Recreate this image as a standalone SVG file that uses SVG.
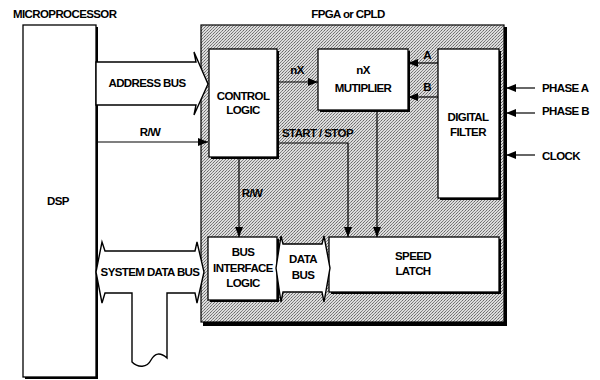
<svg xmlns="http://www.w3.org/2000/svg" width="600" height="380" viewBox="0 0 600 380">
<defs>
<pattern id="dither" width="3" height="3" patternUnits="userSpaceOnUse">
<rect width="3" height="3" fill="#dcdcdc"/>
<rect x="0" y="0" width="1" height="1" fill="#6a6a6a"/>
<rect x="2" y="1" width="1" height="1" fill="#8a8a8a"/>
<rect x="1" y="2" width="1" height="1" fill="#7a7a7a"/>
</pattern>
<marker id="ah" markerUnits="userSpaceOnUse" markerWidth="10" markerHeight="10" viewBox="0 0 10 10" refX="10" refY="5" orient="auto">
<path d="M0,1 L10,5 L0,9 Z" fill="#000"/>
</marker>
</defs>
<style>
text{font-family:"Liberation Sans Narrow","Liberation Sans",Arial,sans-serif;font-weight:bold;font-size:11.5px;fill:#000;letter-spacing:-0.6px}
.c{text-anchor:middle}
.box{fill:#fff;stroke:#000;stroke-width:1.3}
.sh{fill:#000}
.ln{fill:none;stroke:#000;stroke-width:1.2}
.bus{fill:#fff;stroke:#000;stroke-width:1.4;stroke-linejoin:miter}
</style>
<rect width="600" height="380" fill="#fff"/>

<text x="13" y="18">MICROPROCESSOR</text>
<text x="348" y="18" class="c">FPGA or CPLD</text>

<g id="dsp">
<rect x="25" y="27" width="73" height="352" class="sh"/>
<rect x="23" y="25" width="73" height="352" class="box"/>
<text x="58" y="205" class="c">DSP</text>
</g>

<g id="fpga">
<rect x="203" y="27" width="304" height="299" class="sh"/>
<rect x="201" y="25" width="303" height="297" fill="url(#dither)" stroke="#000" stroke-width="1.2"/>
</g>

<g id="control-logic">
<rect x="211" y="51" width="68" height="108" class="sh"/>
<rect x="209" y="49" width="68" height="108" class="box"/>
<text x="243" y="100" class="c">CONTROL</text>
<text x="243" y="114" class="c">LOGIC</text>
</g>

<g id="nx-multiplier">
<rect x="320" y="51" width="90" height="61" class="sh"/>
<rect x="318" y="49" width="90" height="61" class="box"/>
<text x="363" y="74" class="c">nX</text>
<text x="363" y="92" class="c">MUTIPLIER</text>
</g>

<g id="digital-filter">
<rect x="440" y="51" width="61" height="149" class="sh"/>
<rect x="438" y="49" width="61" height="149" class="box"/>
<text x="468" y="121" class="c">DIGITAL</text>
<text x="468" y="136" class="c">FILTER</text>
</g>

<g id="bus-interface-logic">
<rect x="210" y="239" width="69" height="63" class="sh"/>
<rect x="208" y="237" width="69" height="63" class="box"/>
<text x="243" y="256" class="c">BUS</text>
<text x="243" y="272" class="c">INTERFACE</text>
<text x="243" y="287" class="c">LOGIC</text>
</g>

<g id="speed-latch">
<rect x="331" y="239" width="170" height="55" class="sh"/>
<rect x="329" y="237" width="170" height="55" class="box"/>
<text x="413" y="260" class="c">SPEED</text>
<text x="413" y="275" class="c">LATCH</text>
</g>

<g id="data-bus">
<path d="M276,268 L281,236 L283,244 L322,244 L324,236 L330,268 L324,302 L322,292 L283,292 L281,302 Z" class="bus"/>
<text x="303" y="263" class="c">DATA</text>
<text x="303" y="279" class="c">BUS</text>
</g>

<g id="address-bus">
<path d="M96,62 L196,62 L194,52 L208,84 L194,115 L196,105 L96,105 Z" class="bus"/>
<text x="147" y="87" class="c">ADDRESS BUS</text>
</g>

<g id="system-data-bus">
<path d="M96,272 L102,242 L105,251 L195,251 L197,242 L204,272 L197,303 L195,293 L167,293 L167,358 C160,352 155,353 151,360 C147,368 138,368 132,362 L132,293 L105,293 L102,303 Z" class="bus"/>
<text x="150" y="276" class="c">SYSTEM DATA BUS</text>
</g>

<g id="connectors">
<line x1="96" y1="142" x2="208" y2="142" class="ln" marker-end="url(#ah)"/>
<line x1="277" y1="82" x2="318" y2="82" class="ln" marker-end="url(#ah)"/>
<line x1="438" y1="63" x2="408" y2="63" class="ln" marker-end="url(#ah)"/>
<line x1="438" y1="97" x2="408" y2="97" class="ln" marker-end="url(#ah)"/>
<line x1="535" y1="88" x2="506" y2="88" class="ln" marker-end="url(#ah)"/>
<line x1="535" y1="113" x2="506" y2="113" class="ln" marker-end="url(#ah)"/>
<line x1="535" y1="155" x2="506" y2="155" class="ln" marker-end="url(#ah)"/>
<polyline points="277,143 348,143 348,237" class="ln" marker-end="url(#ah)"/>
<line x1="377" y1="110" x2="377" y2="237" class="ln" marker-end="url(#ah)"/>
<line x1="239" y1="157" x2="239" y2="237" class="ln" marker-end="url(#ah)"/>
</g>

<g id="labels">
<text x="150" y="136" class="c">R/W</text>
<text x="297" y="74" class="c">nX</text>
<text x="427" y="59" class="c">A</text>
<text x="427" y="91" class="c">B</text>
<text x="542" y="92">PHASE A</text>
<text x="542" y="115">PHASE B</text>
<text x="542" y="160">CLOCK</text>
<text x="282" y="137">START / STOP</text>
<text x="252" y="197" class="c">R/W</text>
</g>
</svg>
